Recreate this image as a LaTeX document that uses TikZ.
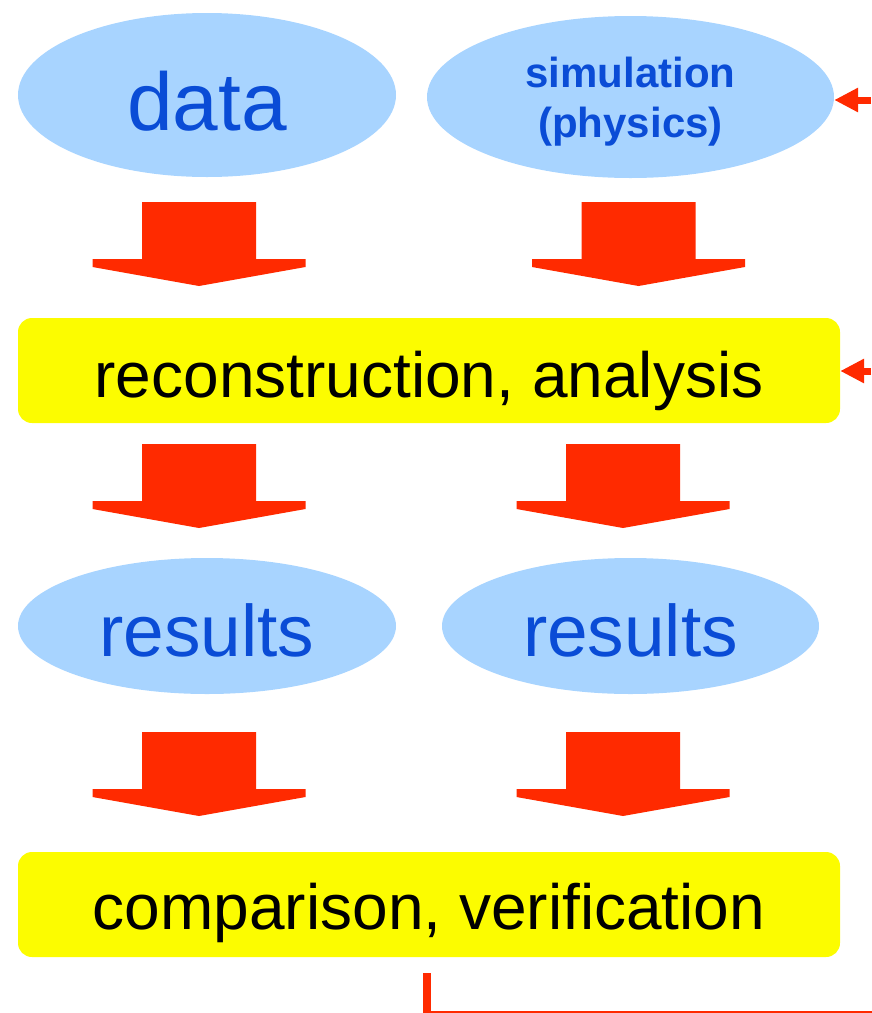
\documentclass[tikz,border=0pt]{standalone}
\usepackage{fontspec}
\setmainfont{Liberation Sans}
\usetikzlibrary{shapes.geometric,arrows.meta}
\definecolor{ellfill}{HTML}{A8D4FF}
\definecolor{elltext}{HTML}{0A4CD6}
\definecolor{arrred}{HTML}{FF2A00}
\definecolor{boxyellow}{HTML}{FCFC00}
\tikzset{
  ell/.style={ellipse, fill=ellfill, text=elltext, inner sep=0pt, text depth=0pt},
  ybox/.style={rectangle, rounded corners=14pt, fill=boxyellow, text=black, inner sep=0pt,
    minimum width=822pt, minimum height=105pt, text depth=0pt, font=\fontsize{64}{76}\selectfont},
  feed/.style={draw=arrred, line width=7pt, -{Triangle[length=24pt,width=23pt]}},
  pics/downarrow/.style={code={
    \fill[arrred] (-57,0) -- (57,0) -- (57,57) -- (106.5,57) -- (106.5,65) -- (0,84)
      -- (-106.5,65) -- (-106.5,57) -- (-57,57) -- cycle;}}
}
\begin{document}
\begin{tikzpicture}[x=1pt,y=-1pt]
\useasboundingbox (0,0) rectangle (871,1013);
% top ellipses
\node[ell, minimum width=378pt, minimum height=164pt, text height=70pt,
  font=\fontsize{82}{98}\selectfont] (data) at (207,95) {data};
\node[ell, minimum width=407pt, minimum height=162pt, align=center, text height=80pt,
  font=\bfseries\fontsize{42}{50}\selectfont] (sim) at (630.5,97) {simulation\\(physics)};
% block arrows row 1
\pic at (199,202) {downarrow};
\pic at (638.5,202) {downarrow};
% reconstruction
\node[ybox, text height=53pt] (rec) at (429,370.5) {reconstruction, analysis};
% block arrows row 2
\pic at (199,444) {downarrow};
\pic at (623,444) {downarrow};
% results
\node[ell, minimum width=378pt, minimum height=136pt, text height=60pt,
  font=\fontsize{73}{88}\selectfont] (res1) at (207,626) {results};
\node[ell, minimum width=377pt, minimum height=136pt, text height=60pt,
  font=\fontsize{73}{88}\selectfont] (res2) at (630.5,626) {results};
% block arrows row 3
\pic at (199,732) {downarrow};
\pic at (623,732) {downarrow};
% comparison
\node[ybox, text height=49pt] (cmp) at (429,904.5) {comparison, verification};
% feedback lines
\coordinate (in1) at (871,100);
\coordinate (in2) at (871,371);
\draw[feed] (in1) -- (in1 -| sim.east);
\draw[feed] (in2) -- (in2 -| rec.east);
\coordinate (fb1) at (427,973);
\coordinate (fb2) at (427,1015);
\coordinate (fb3) at (880,1015);
\draw[arrred, line width=8pt] (fb1) -- (fb2) -- (fb3);
\end{tikzpicture}
\end{document}
